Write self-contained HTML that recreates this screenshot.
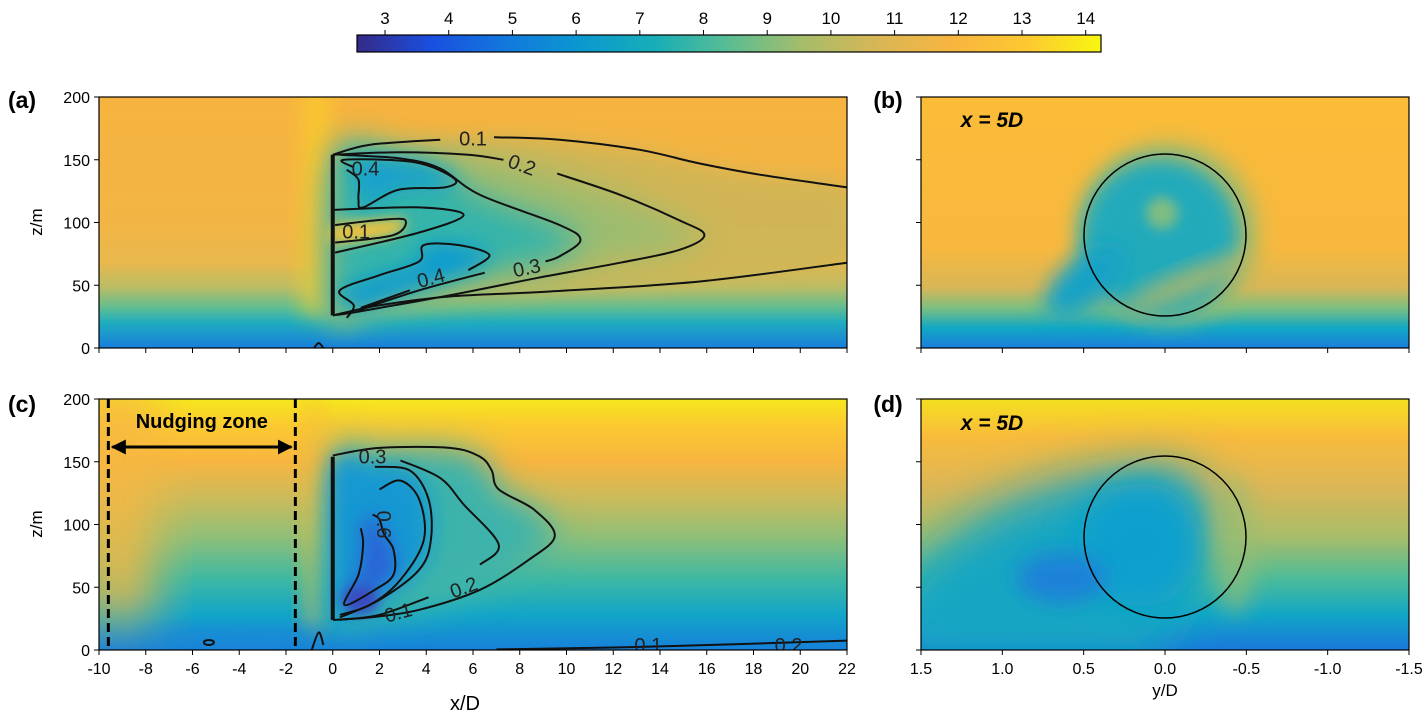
<!DOCTYPE html>
<html><head><meta charset="utf-8">
<style>
html,body{margin:0;padding:0;background:#fff;}
body{width:1426px;height:717px;overflow:hidden;font-family:"Liberation Sans",sans-serif;}
svg text{font-family:"Liberation Sans","DejaVu Sans",sans-serif;}
</style></head>
<body>
<svg id="fig" width="1426" height="717" viewBox="0 0 1426 717" xmlns="http://www.w3.org/2000/svg">
<defs>
  <linearGradient id="parula" x1="0" x2="1" y1="0" y2="0">
    <stop offset="0" stop-color="#352a87"/><stop offset="0.1" stop-color="#1a4fe0"/>
    <stop offset="0.2" stop-color="#1278dc"/><stop offset="0.3" stop-color="#0b98d0"/>
    <stop offset="0.4" stop-color="#17aeb8"/><stop offset="0.5" stop-color="#5abd93"/>
    <stop offset="0.6" stop-color="#a6bd6a"/><stop offset="0.7" stop-color="#d8b656"/>
    <stop offset="0.8" stop-color="#f8b540"/><stop offset="0.9" stop-color="#fcc832"/>
    <stop offset="1" stop-color="#f8f710"/>
  </linearGradient>
  <linearGradient id="gA" x1="0" x2="0" y1="0" y2="1">
    <stop offset="0" stop-color="#f6b33f"/><stop offset="0.5" stop-color="#f2b545"/>
    <stop offset="0.66" stop-color="#e8b84c"/><stop offset="0.76" stop-color="#b9bd66"/>
    <stop offset="0.84" stop-color="#5fbd92"/><stop offset="0.9" stop-color="#1eacbf"/>
    <stop offset="1" stop-color="#1a7edc"/>
  </linearGradient>
  <linearGradient id="gC" x1="0" x2="0" y1="0" y2="1">
    <stop offset="0" stop-color="#f5e81c"/><stop offset="0.1" stop-color="#fbcb30"/>
    <stop offset="0.25" stop-color="#f7b540"/><stop offset="0.4" stop-color="#c9bb5c"/>
    <stop offset="0.55" stop-color="#8fbf78"/><stop offset="0.72" stop-color="#3cb8a4"/>
    <stop offset="0.86" stop-color="#12a5c8"/><stop offset="1" stop-color="#1780da"/>
  </linearGradient>
  <linearGradient id="gB" x1="0" x2="0" y1="0" y2="1">
    <stop offset="0" stop-color="#fbbc38"/><stop offset="0.6" stop-color="#f8b83f"/>
    <stop offset="0.76" stop-color="#d8b656"/><stop offset="0.84" stop-color="#7dbf80"/>
    <stop offset="0.92" stop-color="#12a8c4"/><stop offset="1" stop-color="#1a7edc"/>
  </linearGradient>
  <linearGradient id="gD" x1="0" x2="0" y1="0" y2="1">
    <stop offset="0" stop-color="#f4e020"/><stop offset="0.15" stop-color="#f9bb3c"/>
    <stop offset="0.35" stop-color="#dcb656"/><stop offset="0.55" stop-color="#a8bd6a"/>
    <stop offset="0.72" stop-color="#4abb9a"/><stop offset="0.86" stop-color="#12a6c6"/>
    <stop offset="1" stop-color="#1a78dc"/>
  </linearGradient>
  <filter id="b6" x="-50%" y="-50%" width="200%" height="200%"><feGaussianBlur stdDeviation="6"/></filter>
  <filter id="b10" x="-50%" y="-50%" width="200%" height="200%"><feGaussianBlur stdDeviation="10"/></filter>
  <filter id="b16" x="-50%" y="-50%" width="200%" height="200%"><feGaussianBlur stdDeviation="16"/></filter>
  <filter id="b24" x="-50%" y="-50%" width="200%" height="200%"><feGaussianBlur stdDeviation="24"/></filter>
  <clipPath id="clipA"><rect x="99" y="97" width="748" height="251"/></clipPath>
  <clipPath id="clipC"><rect x="99" y="399" width="748" height="251"/></clipPath>
  <clipPath id="clipB"><rect x="921" y="97" width="488" height="251"/></clipPath>
  <clipPath id="clipD"><rect x="921" y="399" width="488" height="251"/></clipPath>
  <marker id="arr" viewBox="0 0 10 10" refX="9" refY="5" markerWidth="5" markerHeight="5" orient="auto-start-reverse"><path d="M0,0 L10,5 L0,10 z" fill="#000"/></marker>
</defs>
</svg>
<script>
// ---- data ----
const cbTicks=[3,4,5,6,7,8,9,10,11,12,13,14];
const cbMin=2.56, cbMax=14.24;
const xTicksWake=[-10,-8,-6,-4,-2,0,2,4,6,8,10,12,14,16,18,20,22];
const zTicks=[0,50,100,150,200];
const yTicksCross=[1.5,1.0,0.5,0.0,-0.5,-1.0,-1.5];
// contour lines (x/D, z[m])
const cA01Top=[[0,154],[1.6,162],[4.6,166]];
const cA01TopB=[[6.9,168],[9.7,166],[13.1,158],[15.7,147],[18.3,138],[22,128]];
const cA01Bot=[[0,26],[2,34],[5,41],[9.3,45],[15.7,53],[22,68]];
const cA02=[[0,154],[2.9,156],[5.8,154],[7.3,150]];
const cA02B=[[9.6,139],[12.3,122],[14.8,102],[15.9,90],[14.8,78],[12.3,68],[8.8,56],[5,42],[1.1,29],[0,26]];
const cA03=[[0.3,154],[2.9,151],[4.6,143],[6.3,122],[9.7,98],[10.6,86],[9.7,73],[9.1,69]];
const cA03B=[[6.5,60],[3.7,46],[1.1,30]];
const cA04Up=[[0.9,144],[0.5,150],[3.5,148],[5.2,135],[4.8,128],[2.8,126],[1.3,112],[1.1,118],[1.1,134],[0.6,142]];
const cA01In=[[0.1,98],[2,102],[3.1,102],[2.6,90],[0.1,84]];
const cA01Mid=[[0,110],[3.7,112],[5.6,106],[3.7,92],[0.1,76]];
const cA04Lo=[[0.6,24],[0.9,34],[0.3,46],[2,58],[3.7,69],[3.9,82],[5.4,82],[6.7,74],[5.8,62]];
const cA04LoB=[[3.3,46],[1.2,32]];
const cAgnd=[[-0.8,0],[-0.6,4],[-0.4,0]];
const cCout=[[0,155],[2,161],[5,161],[6.3,154],[6.8,143],[7.1,128],[8.6,112],[9.5,91],[8.4,72],[6.3,48],[3.7,32],[1.6,26],[0,24]];
const cC02=[[2.9,151],[4.6,137],[5.6,116],[7.1,84],[6.3,68]];
const cC02B=[[4.1,42],[2,28],[0.3,24]];
const cC03=[[1.8,146],[3.3,143],[4.1,120],[4.2,88],[3.7,64],[2,40],[0.3,26]];
const cC04=[[2,128],[2.9,135],[3.7,120],[3.9,88],[2.9,56],[1.6,36],[0.3,28]];
const cC06=[[1.7,108],[2,104],[2.2,92],[2.6,80],[2.6,60],[1.8,48],[0.5,36],[1.1,60],[1.3,84],[1.2,97]];
const cCgnd=[[7,0.5],[12,2],[17,4.5],[22,7.5]];
const cCbump=[[-0.9,0],[-0.6,14],[-0.4,4]];
// ---- scales ----
const NS='http://www.w3.org/2000/svg';
const svg=document.getElementById('fig');
function el(tag,attrs,parent){const e=document.createElementNS(NS,tag);for(const k in attrs)e.setAttribute(k,attrs[k]);(parent||svg).appendChild(e);return e;}
const xW=v=>99+(v+10)*748/32;
const zA=v=>348-v*251/200;
const zC=v=>650-v*251/200;
const yX=v=>1165-v*488/3;
const cbX=v=>357+(v-cbMin)*(1101-357)/(cbMax-cbMin);
function pathOf(pts,zf,close){
  const P=pts.map(p=>[xW(p[0]),zf(p[1])]);
  const n=P.length;
  if(n<3)return 'M'+P.map(p=>p[0].toFixed(1)+','+p[1].toFixed(1)).join(' L')+(close?' Z':'');
  const get=i=>close?P[(i+n)%n]:P[Math.max(0,Math.min(n-1,i))];
  let d='M'+P[0][0].toFixed(1)+','+P[0][1].toFixed(1);
  const last=close?n:n-1;
  for(let i=0;i<last;i++){
    const p0=get(i-1),p1=get(i),p2=get(i+1),p3=get(i+2);
    const c1=[p1[0]+(p2[0]-p0[0])/6,p1[1]+(p2[1]-p0[1])/6];
    const c2=[p2[0]-(p3[0]-p1[0])/6,p2[1]-(p3[1]-p1[1])/6];
    d+=` C${c1[0].toFixed(1)},${c1[1].toFixed(1)} ${c2[0].toFixed(1)},${c2[1].toFixed(1)} ${p2[0].toFixed(1)},${p2[1].toFixed(1)}`;
  }
  return d+(close?' Z':'');
}

// ---- colorbar ----
const cb=el('g',{});


el('rect',{x:357,y:35,width:744,height:17,fill:'url(#parula)',stroke:'#000','stroke-width':1.2},cb);
cbTicks.forEach(t=>{
  const x=cbX(t);
  el('line',{x1:x,x2:x,y1:35,y2:30,stroke:'#000'},cb);
  const tx=el('text',{x:x,y:24,'font-size':17,'text-anchor':'middle',fill:'#000'},cb);
  tx.textContent=t;
  
  
});

function panel(name){const g=el('g',{});return g;}
function drawLines(list,zf,parent){list.forEach(l=>{const p=el('path',{d:pathOf(l,zf,false),fill:'none',stroke:'#111','stroke-width':2,'stroke-linejoin':'round'},parent);
  
  });}
function drawLabels(list,zf,parent){list.forEach(a=>{
  const t=el('text',{x:xW(a[1]),y:zf(a[2])+7,'font-size':20,'text-anchor':'middle',fill:'#222',transform:`rotate(${a[3]} ${xW(a[1])} ${zf(a[2])})`},parent);
  t.textContent=a[0];
  
  });}

// Panel A
const pA=panel('panel-a-wake-xz');
const fA=el('g',{'clip-path':'url(#clipA)'},pA);
el('rect',{x:99,y:97,width:748,height:251,fill:'url(#gA)'},fA);
el('rect',{x:xW(-1.3),y:90,width:28,height:225,fill:'#fccf2c',filter:'url(#b10)',opacity:0.7},fA);
el('path',{d:pathOf(cA01Top.concat(cA01TopB,cA01Bot.slice().reverse()),zA,true),fill:'#c9b65a',filter:'url(#b10)',opacity:0.8},fA);
el('path',{d:pathOf(cA02.concat(cA02B),zA,true),fill:'#98bd72',filter:'url(#b16)',opacity:0.9},fA);
el('path',{d:pathOf(cA03.concat(cA03B,[[0,26]]),zA,true),fill:'#36b4aa',filter:'url(#b16)'},fA);
el('path',{d:pathOf(cA04Up,zA,true),fill:'#13a0cc',filter:'url(#b10)'},fA);
el('path',{d:pathOf(cA04Lo.concat(cA04LoB),zA,true),fill:'#119bd0',filter:'url(#b10)'},fA);
el('path',{d:pathOf(cA01In,zA,true),fill:'#f0c23e',filter:'url(#b6)'},fA);
drawLines([cA01Top,cA01TopB,cA01Bot,cA02,cA02B,cA03,cA03B,cA04Up,cA01In,cA01Mid,cA04Lo,cA04LoB,cAgnd],zA,fA);
el('line',{x1:xW(0),x2:xW(0),y1:zA(154),y2:zA(26),stroke:'#111','stroke-width':4},fA);
drawLabels([['0.1',6.0,167,0],['0.2',8.1,146,20],['0.3',8.3,64,-12],['0.4',4.2,56,-15],['0.4',1.4,143,0],['0.1',1.0,93,0]],zA,fA);
el('rect',{x:99,y:97,width:748,height:251,fill:'none',stroke:'#000','stroke-width':1.2},pA);

// Panel C
const pC=panel('panel-c-wake-xz');
const fC=el('g',{'clip-path':'url(#clipC)'},pC);
el('rect',{x:99,y:399,width:748,height:251,fill:'url(#gC)'},fC);
el('rect',{x:80,y:380,width:75,height:240,fill:'#f6b842',filter:'url(#b24)',opacity:0.85},fC);
el('rect',{x:xW(-1.3),y:399,width:22,height:230,fill:'#f6be3a',filter:'url(#b10)',opacity:0.5},fC);
el('path',{d:pathOf(cCout,zC,true),fill:'#3cb3ab',filter:'url(#b16)'},fC);
el('path',{d:pathOf(cC03.concat([[0,26],[0,146]]),zC,true),fill:'#1898d2',filter:'url(#b10)'},fC);
el('path',{d:pathOf(cC06,zC,true),fill:'#2a62d8',filter:'url(#b10)'},fC);
el('ellipse',{cx:xW(1.2),cy:zC(40),rx:18,ry:14,fill:'#3b48c0',filter:'url(#b6)'},fC);
el('ellipse',{cx:xW(-4),cy:zC(8),rx:90,ry:10,fill:'#1a88d8',filter:'url(#b10)',opacity:0.7},fC);
drawLines([cCout,cC02,cC02B,cC03,cC04,cC06,cCgnd,cCbump],zC,fC);
el('ellipse',{cx:xW(-5.3),cy:zC(6),rx:5,ry:2.5,fill:'none',stroke:'#111','stroke-width':2},fC);
el('line',{x1:xW(0),x2:xW(0),y1:zC(154),y2:zC(24),stroke:'#111','stroke-width':4},fC);
drawLabels([['0.3',1.7,154,0],['0.6',2.2,100,90],['0.2',5.6,50,-20],['0.1',2.8,30,-15],['0.1',13.5,4,0],['0.2',19.5,4,0]],zC,fC);
const nz=el('g',{},pC);


[-9.6,-1.6].forEach(v=>el('line',{x1:xW(v),x2:xW(v),y1:399,y2:650,stroke:'#000','stroke-width':3,'stroke-dasharray':'9,5'},nz));
el('line',{x1:xW(-9.6)+4,x2:xW(-1.6)-4,y1:447,y2:447,stroke:'#000','stroke-width':3,'marker-start':'url(#arr)','marker-end':'url(#arr)'},nz);
const nzt=el('text',{x:(xW(-9.6)+xW(-1.6))/2,y:428,'font-size':20,'font-weight':'bold','text-anchor':'middle',fill:'#000'},nz);
nzt.textContent='Nudging zone';
el('rect',{x:99,y:399,width:748,height:251,fill:'none',stroke:'#000','stroke-width':1.2},pC);

// Panel B
const pB=panel('panel-b-cross-section');
const fB=el('g',{'clip-path':'url(#clipB)'},pB);
el('rect',{x:921,y:97,width:488,height:251,fill:'url(#gB)'},fB);
el('circle',{cx:1168,cy:232,r:92,fill:'#a8bc68',filter:'url(#b10)',opacity:0.8},fB);
el('circle',{cx:1160,cy:238,r:80,fill:'#22aabb',filter:'url(#b10)'},fB);
el('ellipse',{cx:1085,cy:282,rx:48,ry:24,fill:'#14a2c6',filter:'url(#b10)',transform:'rotate(-40 1085 282)'},fB);
el('ellipse',{cx:1190,cy:282,rx:70,ry:12,fill:'#c8b95c',filter:'url(#b10)',transform:'rotate(-22 1190 282)',opacity:0.8},fB);
el('circle',{cx:1162,cy:213,r:16,fill:'#80bd82',filter:'url(#b6)'},fB);
el('rect',{x:921,y:97,width:488,height:251,fill:'none',stroke:'#000','stroke-width':1.2},pB);
el('circle',{cx:yX(0),cy:zA(90),r:81,fill:'none',stroke:'#000','stroke-width':1.5},pB);

// Panel D
const pD=panel('panel-d-cross-section');
const fD=el('g',{'clip-path':'url(#clipD)'},pD);
el('rect',{x:921,y:399,width:488,height:251,fill:'url(#gD)'},fD);
el('path',{d:'M900,600 C940,520 1040,480 1120,470 C1180,462 1200,470 1205,500 C1210,560 1190,620 1150,660 L900,660 Z',fill:'#18a6c2',filter:'url(#b24)'},fD);
el('circle',{cx:1140,cy:545,r:62,fill:'#0ea0ce',filter:'url(#b16)'},fD);
el('ellipse',{cx:1062,cy:578,rx:45,ry:25,fill:'#1a82d8',filter:'url(#b10)'},fD);
el('ellipse',{cx:1235,cy:545,rx:22,ry:70,fill:'#9abd72',filter:'url(#b10)',opacity:0.6},fD);
el('rect',{x:921,y:399,width:488,height:251,fill:'none',stroke:'#000','stroke-width':1.2},pD);
el('circle',{cx:yX(0),cy:zC(90),r:81,fill:'none',stroke:'#000','stroke-width':1.5},pD);

// ---- axes ----
function ticksY(x0,zf,labels){zTicks.forEach(t=>{el('line',{x1:x0,x2:x0-5,y1:zf(t),y2:zf(t),stroke:'#000'});
  if(labels){const tx=el('text',{x:x0-9,y:zf(t)+6,'font-size':16,'text-anchor':'end'});tx.textContent=t;
   
   }});}
ticksY(99,zA,true);ticksY(99,zC,true);ticksY(921,zA,false);ticksY(921,zC,false);
xTicksWake.forEach(t=>{el('line',{x1:xW(t),x2:xW(t),y1:348,y2:353,stroke:'#000'});el('line',{x1:xW(t),x2:xW(t),y1:650,y2:655,stroke:'#000'});
  const tx=el('text',{x:xW(t),y:674,'font-size':16,'text-anchor':'middle'});tx.textContent=t;
  
  });
yTicksCross.forEach(t=>{el('line',{x1:yX(t),x2:yX(t),y1:348,y2:353,stroke:'#000'});el('line',{x1:yX(t),x2:yX(t),y1:650,y2:655,stroke:'#000'});
  const tx=el('text',{x:yX(t),y:674,'font-size':16,'text-anchor':'middle'});tx.textContent=t.toFixed(1);
  
  });
function label(txt,x,y,size,name,extra){const t=el('text',Object.assign({x:x,y:y,'font-size':size,'text-anchor':'middle'},extra||{}));t.textContent=txt;
  
  return t;}
label('z/m',42,222,17,'y-axis-title-a',{transform:'rotate(-90 42 222)'});
label('z/m',42,524,17,'y-axis-title-c',{transform:'rotate(-90 42 524)'});
label('x/D',465,710,20,'x-axis-title');
label('y/D',1165,696,17,'y-over-d-axis-title');
label('(a)',22,108,23,'panel-label-a',{'font-weight':'bold'});
label('(c)',22,412,23,'panel-label-c',{'font-weight':'bold'});
label('(b)',888,108,23,'panel-label-b',{'font-weight':'bold'});
label('(d)',888,412,23,'panel-label-d',{'font-weight':'bold'});
label('x = 5D',992,127,21,'position-label-b',{'font-weight':'bold','font-style':'italic','font-family':'Liberation Serif, serif'});
label('x = 5D',992,430,21,'position-label-d',{'font-weight':'bold','font-style':'italic','font-family':'Liberation Serif, serif'});
</script>
</body></html>
